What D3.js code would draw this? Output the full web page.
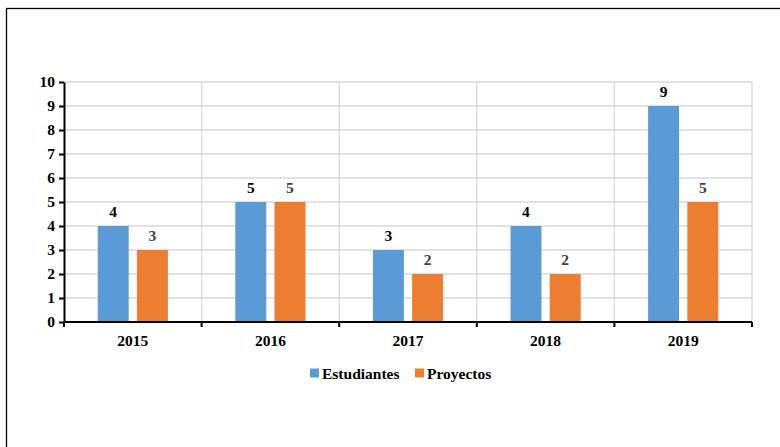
<!DOCTYPE html>
<html>
<head>
<meta charset="utf-8">
<script src="https://cdn.jsdelivr.net/npm/d3@7"></script>
<style>
  body { margin: 0; background: #fff; }
  svg { display: block; }
</style>
</head>
<body>
<svg id="chart" width="780" height="447"></svg>
<script>
const years = ['2015', '2016', '2017', '2018', '2019'];
const estudiantes = [4, 5, 3, 4, 9];
const proyectos = [3, 5, 2, 2, 5];
const yTicks = [0, 1, 2, 3, 4, 5, 6, 7, 8, 9, 10];

const series = [
  { name: 'Estudiantes', values: estudiantes, color: '#5b9bd5', labelColor: '#000' },
  { name: 'Proyectos', values: proyectos, color: '#ed7d31', labelColor: '#404040' }
];

const width = 780, height = 447;
const margin = { top: 82, right: 28, bottom: 125, left: 64 };
const chartWidth = width - margin.left - margin.right;
const chartHeight = height - margin.top - margin.bottom;
const font = '"Liberation Serif", "Times New Roman", serif';
const fontSize = '15.5px';

const svg = d3.select('#chart');

// outer frame (left + top visible, rest runs off the page)
svg.append('rect')
  .attr('x', 6.5).attr('y', 8.5)
  .attr('width', 800).attr('height', 500)
  .attr('fill', 'none').attr('stroke', '#000').attr('stroke-width', 1.3);

const g = svg.append('g').attr('transform', `translate(${margin.left},${margin.top})`);

const x0 = d3.scaleBand().domain(years).range([0, chartWidth]).padding(0);
const x1 = d3.scaleBand().domain(series.map(s => s.name))
  .range([x0.bandwidth() * 0.245, x0.bandwidth() * 0.755]).paddingInner(0.21);
const y = d3.scaleLinear().domain([0, 10]).range([chartHeight, 0]);

// horizontal grid
g.append('g')
  .selectAll('line')
  .data(yTicks.slice(1))
  .enter().append('line')
  .attr('x1', 0).attr('x2', chartWidth)
  .attr('y1', d => y(d)).attr('y2', d => y(d))
  .attr('stroke', '#d9d9d9').attr('stroke-width', 1.3);

// vertical grid at category boundaries
g.append('g')
  .selectAll('line')
  .data(years)
  .enter().append('line')
  .attr('x1', d => x0(d) + x0.bandwidth())
  .attr('x2', d => x0(d) + x0.bandwidth())
  .attr('y1', 0).attr('y2', chartHeight)
  .attr('stroke', '#d9d9d9').attr('stroke-width', 1.3);

// bars
const groups = g.selectAll('.grp')
  .data(years)
  .enter().append('g')
  .attr('transform', d => `translate(${x0(d)},0)`);

series.forEach(s => {
  groups.append('rect')
    .attr('x', x1(s.name))
    .attr('y', (d, i) => y(s.values[i]))
    .attr('width', x1.bandwidth())
    .attr('height', (d, i) => chartHeight - y(s.values[i]))
    .attr('fill', s.color);

  groups.append('text')
    .attr('x', x1(s.name) + x1.bandwidth() / 2)
    .attr('y', (d, i) => y(s.values[i]) - 9)
    .attr('text-anchor', 'middle')
    .style('font-family', font)
    .style('font-weight', 'bold')
    .style('font-size', fontSize)
    .style('fill', s.labelColor)
    .text((d, i) => s.values[i]);
});

// y axis
const yAxis = g.append('g')
  .call(d3.axisLeft(y).tickValues(yTicks).tickSize(5).tickSizeOuter(0).tickPadding(4));
yAxis.select('.domain').attr('stroke', '#000').attr('stroke-width', 2);
yAxis.selectAll('.tick line').attr('stroke', '#000').attr('stroke-width', 2);
yAxis.selectAll('text')
  .style('font-family', font).style('font-weight', 'bold')
  .style('font-size', fontSize).style('fill', '#000');

// x axis with ticks at boundaries
const xAxis = g.append('g').attr('transform', `translate(0,${chartHeight})`);
xAxis.append('line')
  .attr('x1', 0).attr('x2', chartWidth)
  .attr('stroke', '#000').attr('stroke-width', 2);
xAxis.selectAll('.bt')
  .data(years.concat(['end']))
  .enter().append('line')
  .attr('x1', (d, i) => i < years.length ? x0(d) : chartWidth)
  .attr('x2', (d, i) => i < years.length ? x0(d) : chartWidth)
  .attr('y1', 0).attr('y2', 5)
  .attr('stroke', '#000').attr('stroke-width', 2);
xAxis.selectAll('.lbl')
  .data(years)
  .enter().append('text')
  .attr('x', d => x0(d) + x0.bandwidth() / 2)
  .attr('y', 24)
  .attr('text-anchor', 'middle')
  .style('font-family', font).style('font-weight', 'bold')
  .style('font-size', fontSize).style('fill', '#000')
  .text(d => d);

// legend
const legend = svg.append('g').attr('transform', 'translate(310,373)');
const legendX = [0, 105];
series.forEach((s, i) => {
  const lg = legend.append('g').attr('transform', `translate(${legendX[i]},0)`);
  lg.append('rect').attr('x', 0).attr('y', -4.5).attr('width', 9).attr('height', 9).attr('fill', s.color);
  lg.append('text')
    .attr('x', 12).attr('y', 5.5)
    .style('font-family', font).style('font-weight', 'bold')
    .style('font-size', fontSize).style('fill', '#000')
    .text(s.name);
});
</script>
</body>
</html>
